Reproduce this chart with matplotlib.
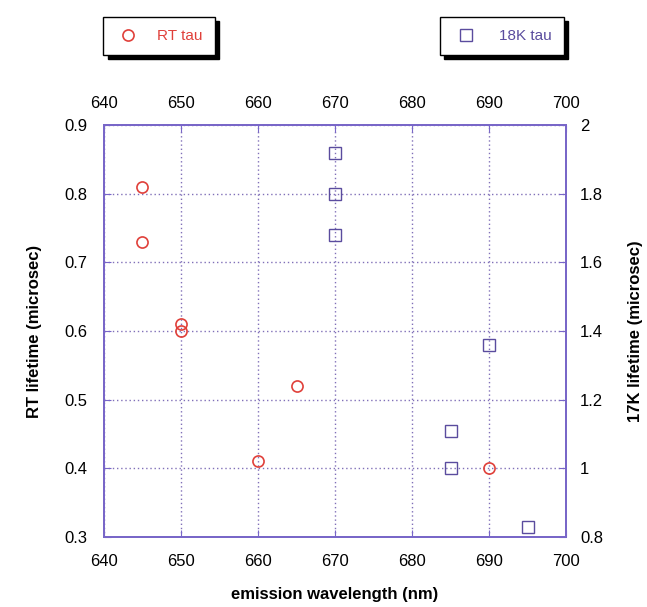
import matplotlib.pyplot as plt

plt.rcParams['font.family'] = ['Liberation Sans', 'DejaVu Sans']

# RT lifetime data (left axis)
rt_wavelength = [645, 645, 650, 650, 660, 665, 690]
rt_tau = [0.81, 0.73, 0.61, 0.60, 0.41, 0.52, 0.40]

# 18K lifetime data (right axis)
lt_wavelength = [670, 670, 670, 690, 685, 685, 695]
lt_tau = [1.92, 1.80, 1.68, 1.36, 1.11, 1.00, 0.83]

x_ticks = [640, 650, 660, 670, 680, 690, 700]
left_ticks = [0.3, 0.4, 0.5, 0.6, 0.7, 0.8, 0.9]
right_ticks = [0.8, 1.0, 1.2, 1.4, 1.6, 1.8, 2.0]
right_labels = ['0.8', '1', '1.2', '1.4', '1.6', '1.8', '2']

red = '#e0403a'
purple = '#5a4c9e'
frame = '#7866c8'

fig = plt.figure(figsize=(6.47, 6.07), dpi=100)
ax = fig.add_axes([0.1607, 0.1153, 0.7143, 0.6787])
ax2 = ax.twinx()

l1, = ax.plot(rt_wavelength, rt_tau, 'o', mfc='none', mec=red, mew=1.2, ms=8, label='RT tau')
l2, = ax2.plot(lt_wavelength, lt_tau, 's', mfc='none', mec=purple, mew=1.0, ms=8, label='18K tau')

ax.set_xlim(640, 700)
ax.set_ylim(0.3, 0.9)
ax2.set_ylim(0.8, 2.0)
ax.set_xticks(x_ticks)
ax.set_yticks(left_ticks)
ax2.set_yticks(right_ticks)
ax2.set_yticklabels(right_labels)

ax.grid(True, linestyle=(0, (1, 2)), color='#8070b8', linewidth=1.0)
ax.tick_params(axis='x', top=True, direction='in', length=5,
               color=frame, labelsize=12, pad=12)
ax.tick_params(axis='y', direction='in', length=5, color=frame, labelsize=12, pad=12)
ax2.tick_params(axis='y', direction='in', length=5, color=frame, labelsize=12, pad=10)

# top wavelength labels
top = ax.secondary_xaxis('top')
top.set_xticks(x_ticks)
top.tick_params(direction='in', length=0, labelsize=12, pad=10)
top.spines['top'].set_visible(False)

for a in (ax, ax2):
    for s in a.spines.values():
        s.set_color(frame)
        s.set_linewidth(1.3)

ax.set_xlabel('emission wavelength (nm)', fontsize=12, fontweight='bold', labelpad=13)
ax.set_ylabel('RT lifetime (microsec)', fontsize=12, fontweight='bold', labelpad=16)
ax2.set_ylabel('17K lifetime (microsec)', fontsize=12, fontweight='bold', labelpad=18)

shadow = {'color': 'black', 'alpha': 1, 'ox': 3, 'oy': -3}
leg1 = fig.legend(handles=[l1], loc='upper left', bbox_to_anchor=(0.148, 0.985),
                  fancybox=False, shadow=shadow, edgecolor='black', framealpha=1,
                  fontsize=11, handletextpad=1.1, handlelength=1.6, borderpad=0.8,
                  labelcolor=red)
leg1.get_frame().set_linewidth(1.0)
leg2 = fig.legend(handles=[l2], loc='upper right', bbox_to_anchor=(0.884, 0.985),
                  fancybox=False, shadow=shadow, edgecolor='black', framealpha=1,
                  fontsize=11, handletextpad=1.3, handlelength=1.8, borderpad=0.8,
                  labelcolor=purple)
leg2.get_frame().set_linewidth(1.0)

fig.savefig('out.png', dpi=100)
